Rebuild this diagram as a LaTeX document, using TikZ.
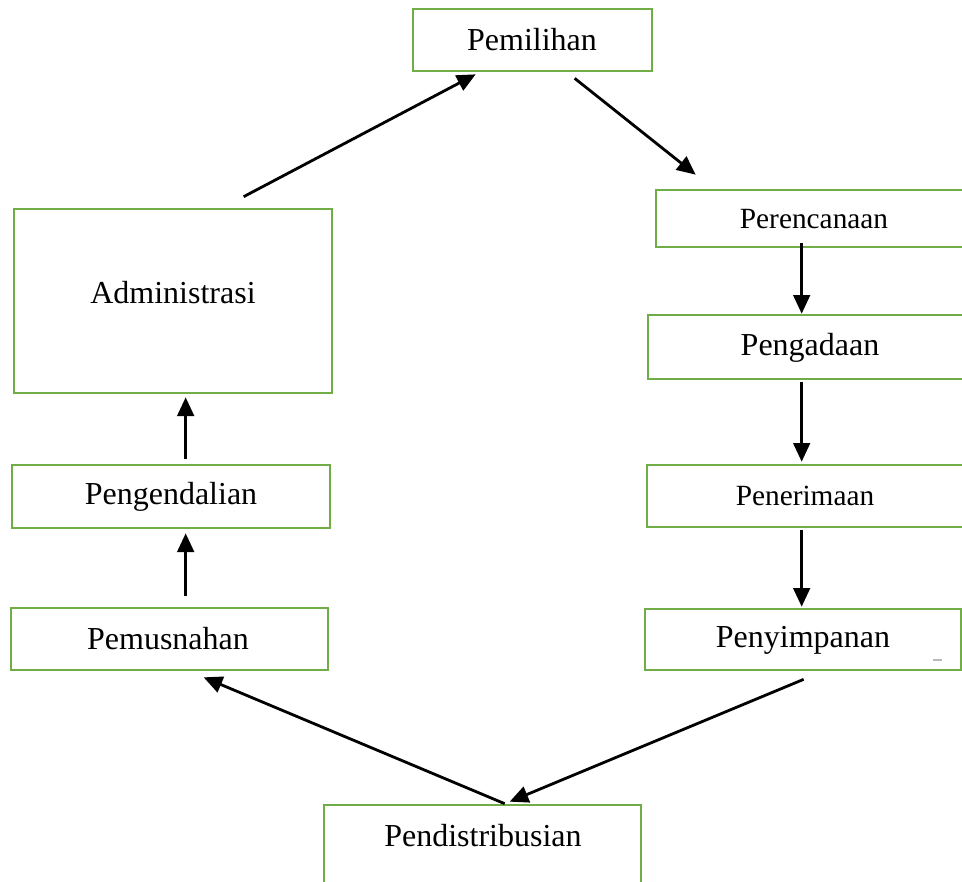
\documentclass[tikz,border=0pt]{standalone}
\usepackage{fontspec}
\setmainfont{Liberation Serif}
\usetikzlibrary{arrows.meta,calc}
\definecolor{boxgreen}{RGB}{112,173,71}
\tikzset{
  box/.style={draw=boxgreen, line width=2pt, fill=none, inner sep=0pt, rectangle},
  lbl/.style={inner sep=0pt, font=\fontsize{24}{28}\selectfont},
  lbls/.style={inner sep=0pt, font=\fontsize{22}{26}\selectfont},
  arr/.style={draw=black, line width=2.1pt, -{Triangle[length=14pt,width=12.5pt]}}
}
\newcommand{\mybox}[5]{%
  \node[box, minimum width={(#4-#2)*0.75pt}, minimum height={(#5-#3)*0.75pt}] (#1) at ({(#2+#4)/2},{(#3+#5)/2}) {};}
\begin{document}
\begin{tikzpicture}[x=0.75pt,y=-0.75pt]
\useasboundingbox (0,0) rectangle (962,881);
\clip (0,0) rectangle (962,881);
\fill[white] (0,0) rectangle (962,881);
% boxes
\mybox{pem}{413}{9}{652}{71}
\mybox{per}{656}{190}{980}{247}
\mybox{pgd}{648}{315}{980}{379}
\mybox{pnr}{647}{465}{980}{527}
\mybox{pny}{645}{609}{961}{670}
\mybox{adm}{14}{209}{332}{393}
\mybox{pgn}{12}{465}{330}{528}
\mybox{pms}{11}{608}{328}{670}
\mybox{pds}{324}{805}{641}{910}
% labels
\node[lbl]  (tpem) at (532,40)  {Pemilihan};
\node[lbls] (tper) at (814,219) {Perencanaan};
\node[lbl]  (tpgd) at (810,348) {Pengadaan};
\node[lbls] (tpnr) at (805,496) {Penerimaan};
\node[lbl]  (tpny) at (803,640) {Penyimpanan};
\node[lbl]  (tadm) at (173,293) {Administrasi};
\node[lbl]  (tpgn) at (171,497) {Pengendalian};
\node[lbl]  (tpms) at (168,639) {Pemusnahan};
\node[lbl]  (tpds) at (483,836) {Pendistribusian};
% small grey mark
\draw[gray!55, line width=1.5pt] (933,660) -- (942,660);
% arrows
\draw[arr] ($(adm.north west)+(231,-11)$) -- ($(pem.south west)+(64,2)$);
\draw[arr] ($(pem.south west)+(163,6)$) -- ($(per.north west)+(41,-14)$);
\draw[arr] ($(per.south west)+(147,-5)$) -- ($(pgd.north west)+(155,0)$);
\draw[arr] ($(pgd.south west)+(155,2)$) -- ($(pnr.north west)+(156,-2)$);
\draw[arr] ($(pnr.south west)+(156,2)$) -- ($(pny.north west)+(158,-1)$);
\draw[arr] ($(pny.south west)+(160,8)$) -- ($(pds.north west)+(187,-2)$);
\draw[arr] ($(pds.north west)+(182,0)$) -- ($(pms.south west)+(194,6)$);
\draw[arr] ($(pms.north west)+(176,-11)$) -- ($(pgn.south west)+(175,4)$);
\draw[arr] ($(pgn.north west)+(175,-5)$) -- ($(adm.south west)+(173,3)$);
\end{tikzpicture}
\end{document}
